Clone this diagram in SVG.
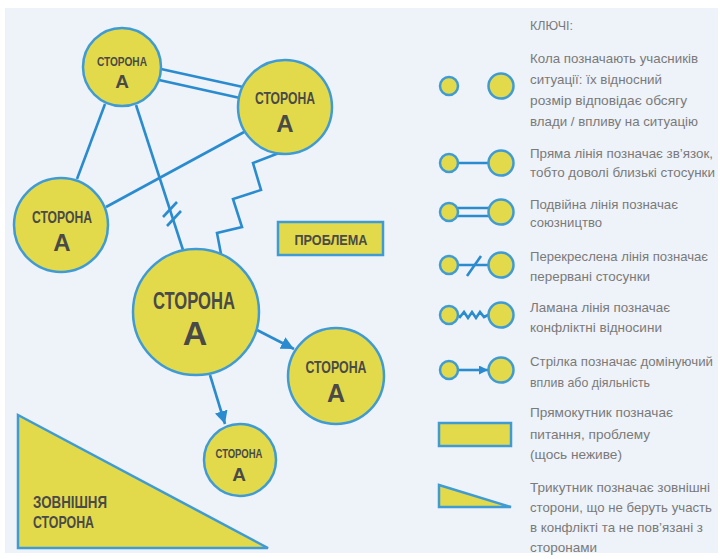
<svg xmlns="http://www.w3.org/2000/svg" width="720" height="559" viewBox="0 0 720 559">
  <defs>
    <marker id="arr" viewBox="0 0 10 10" refX="10" refY="5" markerWidth="13" markerHeight="13" markerUnits="userSpaceOnUse" orient="auto">
      <path d="M0,0 L10,5 L0,10 Z" fill="#2a8ccf"/>
    </marker>
    <marker id="arrs" viewBox="0 0 10 10" refX="10" refY="5" markerWidth="9" markerHeight="9" markerUnits="userSpaceOnUse" orient="auto">
      <path d="M0,0 L10,5 L0,10 Z" fill="#2a8ccf"/>
    </marker>
  </defs>
  <style>
    .node { fill: #e3da4b; stroke: #3f9bd3; stroke-width: 2.5; }
    .ln { fill: none; stroke: #2a8ccf; stroke-width: 2.6; stroke-linejoin: miter; }
    .lbl { font-family: "Liberation Sans", Arial, sans-serif; font-weight: bold; fill: #4a4a48; text-anchor: middle; }
    .key { font-family: "Liberation Sans", Arial, sans-serif; font-size: 13.5px; fill: #7a7a7a; }
  </style>
  <rect x="0" y="0" width="720" height="559" fill="#ffffff"/>
  <rect x="5" y="8" width="713" height="545" fill="#eef2f9"/>

  <g id="connectors">
    <line class="ln" x1="105" y1="104" x2="77" y2="179"/>
    <line class="ln" x1="161" y1="69" x2="243" y2="87"/>
    <line class="ln" x1="159" y1="80" x2="240" y2="98"/>
    <line class="ln" x1="106" y1="207" x2="246" y2="131"/>
    <line class="ln" x1="136" y1="105" x2="183" y2="250"/>
    <line class="ln" x1="163" y1="217" x2="177" y2="202"/>
    <line class="ln" x1="167" y1="226" x2="181" y2="211"/>
    <polyline class="ln" points="279,153 253,163 261,190 233,199 242,227 217,233 221,254"/>
    <line class="ln" x1="257" y1="330" x2="294" y2="349" marker-end="url(#arr)"/>
    <line class="ln" x1="210" y1="375" x2="225" y2="424" marker-end="url(#arr)"/>
  </g>

  <g id="node-a1">
    <circle class="node" cx="122" cy="67" r="39"/>
    <text class="lbl" x="122" y="66" font-size="13.5" textLength="50" lengthAdjust="spacingAndGlyphs">СТОРОНА</text>
    <text class="lbl" x="122" y="88" font-size="19">А</text>
  </g>
  <g id="node-a2">
    <circle class="node" cx="285" cy="107" r="47"/>
    <text class="lbl" x="285" y="104" font-size="17" textLength="60" lengthAdjust="spacingAndGlyphs">СТОРОНА</text>
    <text class="lbl" x="285" y="132" font-size="24">А</text>
  </g>
  <g id="node-a3">
    <circle class="node" cx="61" cy="225" r="47"/>
    <text class="lbl" x="62" y="223" font-size="17" textLength="60" lengthAdjust="spacingAndGlyphs">СТОРОНА</text>
    <text class="lbl" x="62" y="251" font-size="24">А</text>
  </g>
  <g id="node-a4">
    <circle class="node" cx="196" cy="312" r="63"/>
    <text class="lbl" x="194" y="309" font-size="23" textLength="82" lengthAdjust="spacingAndGlyphs">СТОРОНА</text>
    <text class="lbl" x="195" y="345" font-size="34">А</text>
  </g>
  <g id="node-a5">
    <circle class="node" cx="336" cy="376" r="48"/>
    <text class="lbl" x="336" y="373" font-size="17" textLength="61" lengthAdjust="spacingAndGlyphs">СТОРОНА</text>
    <text class="lbl" x="336" y="402" font-size="25">А</text>
  </g>
  <g id="node-a6">
    <circle class="node" cx="240" cy="460" r="36"/>
    <text class="lbl" x="239" y="458" font-size="12" textLength="47" lengthAdjust="spacingAndGlyphs">СТОРОНА</text>
    <text class="lbl" x="239" y="481" font-size="19">А</text>
  </g>
  <g id="node-problem">
    <rect class="node" x="278" y="222" width="105" height="33"/>
    <text class="lbl" x="331" y="245" font-size="15" textLength="73" lengthAdjust="spacingAndGlyphs">ПРОБЛЕМА</text>
  </g>
  <g id="node-external">
    <polygon class="node" points="18,415 18,548 268,548"/>
    <text class="lbl" x="33" y="508" font-size="17" text-anchor="start" style="text-anchor:start" textLength="74" lengthAdjust="spacingAndGlyphs">ЗОВНІШНЯ</text>
    <text class="lbl" x="33" y="528" font-size="17" style="text-anchor:start" textLength="61" lengthAdjust="spacingAndGlyphs">СТОРОНА</text>
  </g>

  <g id="legend">
    <text class="key" x="530" y="30" textLength="43" lengthAdjust="spacingAndGlyphs">КЛЮЧІ:</text>

    <circle class="node" cx="449" cy="86" r="9"/>
    <circle class="node" cx="501" cy="86" r="12.5"/>
    <text class="key" x="530" y="63" textLength="168" lengthAdjust="spacingAndGlyphs">Кола позначають учасників</text>
    <text class="key" x="530" y="84" textLength="132" lengthAdjust="spacingAndGlyphs">ситуації: їх відносний</text>
    <text class="key" x="530" y="105" textLength="157" lengthAdjust="spacingAndGlyphs">розмір відповідає обсягу</text>
    <text class="key" x="530" y="126" textLength="168" lengthAdjust="spacingAndGlyphs">влади / впливу на ситуацію</text>

    <line class="ln" x1="456" y1="163" x2="490" y2="163"/>
    <circle class="node" cx="449" cy="163" r="9"/>
    <circle class="node" cx="501" cy="163" r="12.5"/>
    <text class="key" x="530" y="158" textLength="183" lengthAdjust="spacingAndGlyphs">Пряма лінія позначає зв’язок,</text>
    <text class="key" x="530" y="177" textLength="185" lengthAdjust="spacingAndGlyphs">тобто доволі близькі стосунки</text>

    <line class="ln" x1="456" y1="208" x2="490" y2="208"/>
    <line class="ln" x1="456" y1="216" x2="490" y2="216"/>
    <circle class="node" cx="449" cy="212" r="9"/>
    <circle class="node" cx="501" cy="212" r="12.5"/>
    <text class="key" x="530" y="209" textLength="148" lengthAdjust="spacingAndGlyphs">Подвійна лінія позначає</text>
    <text class="key" x="530" y="227" textLength="72" lengthAdjust="spacingAndGlyphs">союзництво</text>

    <line class="ln" x1="456" y1="265" x2="490" y2="265"/>
    <line class="ln" x1="467" y1="276" x2="481" y2="256"/>
    <circle class="node" cx="449" cy="265" r="9"/>
    <circle class="node" cx="501" cy="265" r="12.5"/>
    <text class="key" x="530" y="261" textLength="178" lengthAdjust="spacingAndGlyphs">Перекреслена лінія позначає</text>
    <text class="key" x="530" y="281" textLength="120" lengthAdjust="spacingAndGlyphs">перервані стосунки</text>

    <polyline class="ln" stroke-width="2" points="456,314 460,317 464,312 468,318 472,312 476,318 480,312 484,317 490,314"/>
    <circle class="node" cx="449" cy="315" r="9"/>
    <circle class="node" cx="501" cy="315" r="12.5"/>
    <text class="key" x="530" y="312" textLength="140" lengthAdjust="spacingAndGlyphs">Ламана лінія позначає</text>
    <text class="key" x="530" y="332" textLength="132" lengthAdjust="spacingAndGlyphs">конфліктні відносини</text>

    <line class="ln" x1="456" y1="370" x2="488" y2="370" marker-end="url(#arrs)"/>
    <circle class="node" cx="449" cy="370" r="9"/>
    <circle class="node" cx="501" cy="370" r="12.5"/>
    <text class="key" x="530" y="366" textLength="183" lengthAdjust="spacingAndGlyphs">Стрілка позначає домінуючий</text>
    <text class="key" x="530" y="387" textLength="120" lengthAdjust="spacingAndGlyphs">вплив або діяльність</text>

    <rect class="node" x="439" y="423" width="72" height="23"/>
    <text class="key" x="530" y="417" textLength="143" lengthAdjust="spacingAndGlyphs">Прямокутник позначає</text>
    <text class="key" x="530" y="439" textLength="120" lengthAdjust="spacingAndGlyphs">питання, проблему</text>
    <text class="key" x="530" y="459" textLength="92" lengthAdjust="spacingAndGlyphs">(щось неживе)</text>

    <polygon class="node" points="439,485 439,507 511,507"/>
    <text class="key" x="530" y="492" textLength="180" lengthAdjust="spacingAndGlyphs">Трикутник позначає зовнішні</text>
    <text class="key" x="530" y="512" textLength="182" lengthAdjust="spacingAndGlyphs">сторони, що не беруть участь</text>
    <text class="key" x="530" y="532" textLength="173" lengthAdjust="spacingAndGlyphs">в конфлікті та не пов’язані з</text>
    <text class="key" x="530" y="552" textLength="67" lengthAdjust="spacingAndGlyphs">сторонами</text>
  </g>
</svg>
